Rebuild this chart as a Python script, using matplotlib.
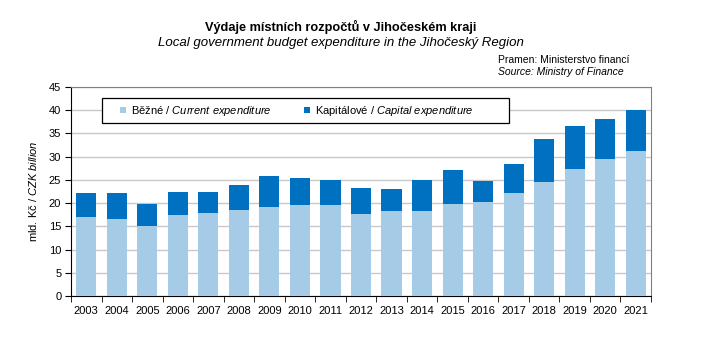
import matplotlib
matplotlib.use('Agg')
import matplotlib.pyplot as plt
from matplotlib.patches import Patch, Rectangle

plt.rcParams['font.family'] = ['Liberation Sans', 'DejaVu Sans']
plt.rcParams['mathtext.fontset'] = 'custom'
plt.rcParams['mathtext.rm'] = 'Liberation Sans'
plt.rcParams['mathtext.it'] = 'Liberation Sans:italic'

years = [str(y) for y in range(2003, 2022)]
current = [17.0, 16.5, 15.1, 17.4, 17.9, 18.6, 19.2, 19.7, 19.5, 17.7,
           18.2, 18.4, 19.8, 20.3, 22.2, 24.6, 27.4, 29.5, 31.3]
total = [22.1, 22.1, 19.9, 22.4, 22.3, 23.9, 25.9, 25.4, 25.0, 23.3,
         23.1, 25.0, 27.2, 24.7, 28.4, 33.9, 36.7, 38.2, 40.1]
capital = [t - c for t, c in zip(total, current)]

c_light = '#a6cbe6'
c_dark = '#0070c0'

fig = plt.figure(figsize=(7.06, 3.5), dpi=100)
ax = fig.add_axes([71/706, 1-296/350, 580/706, 209/350])

x = range(len(years))
ax.bar(x, current, width=0.66, color=c_light, zorder=3)
ax.bar(x, capital, bottom=current, width=0.66, color=c_dark, zorder=3)

ax.set_xlim(-0.5, len(years) - 0.5)
ax.set_ylim(0, 45)
ax.set_yticks(range(0, 46, 5))
ax.yaxis.grid(True, color='#c8c8c8', linewidth=1, zorder=0)
ax.set_xticks(list(x))
ax.set_xticklabels(years, fontsize=8)
ax.set_xticks([i + 0.5 for i in range(-1, len(years))], minor=True)
ax.tick_params(axis='x', which='major', length=0, pad=7)
ax.tick_params(axis='x', which='minor', length=4, direction='out', color='black')
ax.tick_params(axis='y', labelsize=8, length=4, direction='out', pad=3)
for s in ['left', 'bottom']:
    ax.spines[s].set_color('black')
for s in ['top', 'right']:
    ax.spines[s].set_color('#808080')

ax.set_ylabel('mld. Kč / $\\it{CZK\\ billion}$', fontsize=8, labelpad=7)

# legend box
ax.add_patch(Rectangle((0.053, 0.828), 0.702, 0.119, transform=ax.transAxes,
                       facecolor='white', edgecolor='black', linewidth=0.9,
                       zorder=5))
handles = [Patch(facecolor=c_light), Patch(facecolor=c_dark)]
labels = ['Běžné / $\\it{Current\\ expenditure}$',
          'Kapitálové / $\\it{Capital\\ expenditure}$']
leg = ax.legend(handles, labels, ncol=2, loc='center left',
                bbox_to_anchor=((120 - 71) / 580, 0.887),
                fontsize=8, frameon=False, handlelength=0.5, handleheight=0.5,
                handletextpad=0.5, borderaxespad=0, borderpad=0,
                columnspacing=2.9)
leg.set_zorder(6)

fig.text(341/706, 1-27/350, 'Výdaje místních rozpočtů v Jihočeském kraji',
         ha='center', va='center', fontsize=9.2, fontweight='bold')
fig.text(341/706, 1-43/350, 'Local government budget expenditure in the Jihočeský Region',
         ha='center', va='center', fontsize=9.5, style='italic')
fig.text(498/706, 1-60/350, 'Pramen: Ministerstvo financí',
         ha='left', va='center', fontsize=7.5)
fig.text(498/706, 1-72/350, 'Source: Ministry of Finance',
         ha='left', va='center', fontsize=7.5, style='italic')

fig.savefig('out.png', dpi=100)
